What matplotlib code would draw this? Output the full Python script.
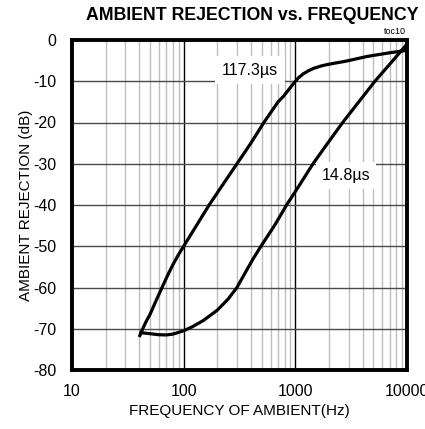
import matplotlib
matplotlib.use("Agg")
import matplotlib.pyplot as plt
from matplotlib.ticker import NullFormatter, LogLocator

plt.rcParams['font.family'] = ['Liberation Sans', 'DejaVu Sans']

freq_117 = [40, 43, 46, 50, 57, 64, 72, 80, 90, 100, 130, 169, 225, 300, 400, 523, 700, 780, 880, 1000,
            1062, 1178, 1300, 1450, 1700, 1972, 2877, 4370, 7000, 10000]
rej_117 = [-72, -70, -68.3, -66.5, -63, -60, -57, -54.5, -52, -50, -45, -40, -35, -30, -25, -20, -15, -13.7, -11.9, -10,
           -9.2, -8.2, -7.5, -6.9, -6.3, -5.9, -5.1, -4.0, -3.1, -2.5]

freq_148 = [40, 50, 60, 70, 80, 100, 120, 150, 200, 250, 300, 363, 420, 492, 650, 835, 1100, 1440, 1950,
            2655, 3700, 5160, 7200, 10000]
rej_148 = [-70.9, -71.2, -71.45, -71.5, -71.3, -70.5, -69.5, -68, -65.5, -62.8, -60, -56, -53, -50, -45, -40,
           -35, -30, -25, -20, -15, -10, -5.5, -1]

x_ticks = [10, 100, 1000, 10000]
x_labels = ['10', '100', '1000', '10000']
y_ticks = [0, -10, -20, -30, -40, -50, -60, -70, -80]

fig = plt.figure(figsize=(4.25, 4.29), dpi=100)
ax = fig.add_axes([72/425, 1-370/429, (407-72)/425, (370-40)/429])

ax.plot(freq_117, rej_117, color='black', lw=2.3, solid_capstyle='butt', solid_joinstyle='round', zorder=5)
ax.plot(freq_148, rej_148, color='black', lw=2.3, solid_capstyle='butt', solid_joinstyle='round', zorder=5)

ax.set_xscale('log')
ax.set_xlim(10, 10000)
ax.set_ylim(-80, 0)
ax.set_xticks(x_ticks)
ax.set_xticklabels(x_labels)
ax.xaxis.set_minor_locator(LogLocator(base=10, subs=range(2, 10)))
ax.xaxis.set_minor_formatter(NullFormatter())
ax.set_yticks(y_ticks)
ax.set_yticklabels([str(v) for v in y_ticks])
ax.tick_params(axis='both', which='both', length=0, labelsize=11.5)
ax.tick_params(axis='x', pad=10)
ax.tick_params(axis='y', pad=11)

ax.grid(which='major', axis='x', color='black', lw=1.0)
ax.grid(which='minor', axis='x', color='#bdbdbd', lw=1.0)
ax.grid(which='major', axis='y', color='#4a4a4a', lw=1.0)
ax.set_axisbelow(True)

for s in ax.spines.values():
    s.set_linewidth(2.8)
    s.set_color('black')

ax.set_xlabel('FREQUENCY OF AMBIENT(Hz)', fontsize=11, labelpad=4)
ax.set_ylabel('AMBIENT REJECTION (dB)', fontsize=11, labelpad=0)

fig.text(252/425, 1-15.5/429, 'AMBIENT REJECTION vs. FREQUENCY', ha='center', va='center',
         fontsize=12.8, fontweight='bold')
fig.text(395/425, 1-31/429, 'toc10', ha='center', va='center', fontsize=6.5)

ax.text(393, -7.3, '117.3\u00b5s', ha='center', va='center', fontsize=11.5, zorder=6,
        bbox=dict(facecolor='white', edgecolor='none', pad=5))
ax.text(2840, -32.85, '14.8\u00b5s', ha='center', va='center', fontsize=11.5, zorder=6,
        bbox=dict(facecolor='white', edgecolor='none', pad=4))

fig.savefig('out.png', dpi=100)
